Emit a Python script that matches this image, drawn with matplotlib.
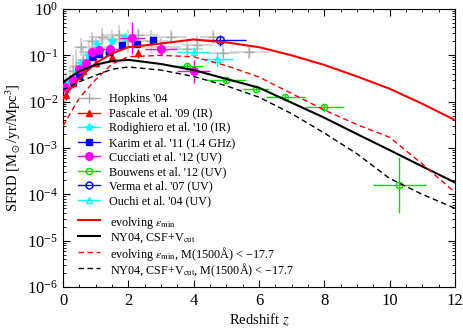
import numpy as np
import matplotlib
matplotlib.use("Agg")
import matplotlib.pyplot as plt
from matplotlib.lines import Line2D

plt.rcParams['font.family'] = ['Liberation Serif', 'DejaVu Serif']
plt.rcParams['mathtext.fontset'] = 'stix'

# model curves
z_model = [0, 0.25, 0.5, 1.0, 1.5, 2.0, 3.0, 4.0, 5.0, 6.0, 7.0, 8.0, 9.0, 10.0, 11.0, 12.0]
evolving = [0.012, 0.02, 0.032, 0.068, 0.11, 0.15, 0.18, 0.22, 0.19, 0.15, 0.1, 0.062, 0.035, 0.019, 0.009, 0.004]
ny04 = [0.026, 0.035, 0.045, 0.063, 0.075, 0.08, 0.065, 0.048, 0.031, 0.02, 0.0095, 0.0045, 0.002, 0.0009, 0.0004, 0.00018]
evolving_cut = [0.003, 0.006, 0.012, 0.03, 0.065, 0.093, 0.1, 0.093, 0.06, 0.034, 0.015, 0.0066, 0.0032, 0.0017, 0.00045, 0.00011]
ny04_cut = [0.018, 0.022, 0.027, 0.037, 0.05, 0.056, 0.048, 0.035, 0.022, 0.0125, 0.0055, 0.0021, 0.00075, 0.00022, 0.0001, 0.00005]

# observations
hop_z = [0.05, 0.1, 0.2, 0.3, 0.4, 0.55, 0.6, 0.8, 0.9, 1.0, 1.2, 1.5, 1.7, 2.0, 2.3, 2.7, 3.0, 3.3, 3.8, 4.1, 4.6, 4.9, 5.7]
hop_v = [0.016, 0.022, 0.03, 0.045, 0.06, 0.15, 0.08, 0.12, 0.2, 0.15, 0.25, 0.22, 0.28, 0.2, 0.27, 0.2, 0.15, 0.25, 0.14, 0.17, 0.25, 0.11, 0.12]
hop_xe = [0.05, 0.05, 0.1, 0.1, 0.15, 0.2, 0.2, 0.3, 0.3, 0.4, 0.4, 0.4, 0.5, 0.6, 0.6, 0.5, 0.6, 0.5, 0.5, 0.5, 0.4, 0.5, 0.6]
hop_ye = [0.3, 0.3, 0.3, 0.35, 0.35, 0.2, 0.3, 0.25, 0.2, 0.25, 0.2, 0.2, 0.2, 0.25, 0.15, 0.25, 0.2, 0.15, 0.2, 0.2, 0.15, 0.2, 0.15]

pas_z = [0.1, 0.3, 0.6, 1.0, 1.5, 2.3]
pas_v = [0.014, 0.025, 0.045, 0.07, 0.09, 0.11]

rod_z = [0.15, 0.4, 0.55, 0.75, 1.05, 1.5, 1.9]
rod_v = [0.025, 0.045, 0.07, 0.1, 0.18, 0.2, 0.25]

kar_z = [0.3, 0.5, 0.7, 0.9, 1.1, 1.4, 1.8, 2.25, 2.75]
kar_v = [0.028, 0.036, 0.06, 0.09, 0.105, 0.12, 0.17, 0.18, 0.21]

cuc_z = [0.05, 0.3, 0.5, 0.7, 0.9, 1.1, 1.45, 2.1, 3.0, 4.0]
cuc_v = [0.021, 0.03, 0.05, 0.07, 0.12, 0.13, 0.14, 0.24, 0.135, 0.045]
cuc_xe = [0.05, 0.1, 0.1, 0.1, 0.1, 0.1, 0.25, 0.4, 0.5, 0.5]
cuc_ye = [0.1, 0.08, 0.08, 0.08, 0.08, 0.08, 0.1, 0.35, 0.15, 0.25]

bou_z = [3.8, 5.0, 5.9, 6.8, 8.0, 10.3]
bou_v = [0.06, 0.029, 0.019, 0.0125, 0.0075, 0.00016]
bou_xe = [0.5, 0.6, 0.4, 0.6, 0.6, 0.8]
bou_ye = [0.05, 0.05, 0.05, 0.06, 0.08, 0.6]

ver_z = [4.8]
ver_v = [0.21]
ouc_z = [4.0, 4.7]
ouc_v = [0.12, 0.082]

fig = plt.figure(figsize=(4.64, 3.31), dpi=100)
ax = fig.add_axes([0.1358, 0.1329, 0.8448, 0.8399])


def yerr_log(v, e):
    v = np.array(v)
    e = np.array(e)
    return [v - v * 10**(-e), v * 10**e - v]


ax.errorbar(hop_z, hop_v, xerr=hop_xe, yerr=yerr_log(hop_v, hop_ye), fmt='+', color='#aaaaaa',
            ecolor='#d0d0d0', ms=7, mew=1, lw=1.2, zorder=1)
ax.errorbar(pas_z, pas_v, yerr=yerr_log(pas_v, [0.1]*6), fmt='^', color='red', ms=4, lw=1, zorder=3)
ax.errorbar(rod_z, rod_v, yerr=yerr_log(rod_v, [0.08]*7), fmt='*', color='cyan', ms=6, lw=1, zorder=3)
ax.errorbar(kar_z, kar_v, xerr=[0.1]*9, fmt='s', color='blue', ms=4.5, lw=1, zorder=4)
ax.errorbar(cuc_z, cuc_v, xerr=cuc_xe, yerr=yerr_log(cuc_v, cuc_ye), fmt='o', color='magenta',
            ms=5.5, lw=1, zorder=4)
ax.errorbar(bou_z, bou_v, xerr=bou_xe, yerr=yerr_log(bou_v, bou_ye), fmt='o', color='#00dd00',
            mfc='none', ms=4.5, lw=1, zorder=4)
ax.errorbar(ver_z, ver_v, xerr=[[0.5], [0.8]], yerr=yerr_log(ver_v, [0.12]), fmt='o', color='blue',
            mfc='none', ms=5.5, lw=1, zorder=4)
ax.errorbar(ouc_z, ouc_v, xerr=[0.5, 0.5], yerr=yerr_log(ouc_v, [0.1, 0.15]), fmt='^', color='cyan',
            mfc='none', ms=5, lw=1, zorder=4)

dash = (0, (4, 2.5))
ax.plot(z_model, evolving, color='red', lw=1.5, zorder=5)
ax.plot(z_model, ny04, color='black', lw=1.5, zorder=5)
ax.plot(z_model, evolving_cut, color='red', lw=1, ls=dash, zorder=5)
ax.plot(z_model, ny04_cut, color='black', lw=1, ls=dash, zorder=5)

ax.set_yscale('log')
ax.set_xlim(0, 12)
ax.set_ylim(1e-6, 1)
ax.set_xticks(range(0, 13, 2))
ax.set_xticks(np.arange(0, 12.1, 0.5), minor=True)
ax.tick_params(which='both', direction='in', top=True, right=True, labelsize=12)
ax.tick_params(which='major', length=5)
ax.tick_params(which='minor', length=2.5)
ax.tick_params(axis='x', pad=4)
ax.set_xlabel('Redshift $z$', fontsize=10.5, labelpad=2)
ax.set_ylabel(r'SFRD [M$_\odot$/yr/Mpc$^3$]', fontsize=10.5, labelpad=3)

h1 = [Line2D([], [], color='#aaaaaa', marker='+', ms=7, lw=1),
      Line2D([], [], color='red', marker='^', ms=4, lw=1),
      Line2D([], [], color='cyan', marker='*', ms=6, lw=1),
      Line2D([], [], color='blue', marker='s', ms=4.5, lw=1),
      Line2D([], [], color='magenta', marker='o', ms=5.5, lw=1),
      Line2D([], [], color='#00dd00', marker='o', mfc='none', ms=4.5, lw=1),
      Line2D([], [], color='blue', marker='o', mfc='none', ms=5, lw=1),
      Line2D([], [], color='cyan', marker='^', mfc='none', ms=5, lw=1)]
l1 = ["Hopkins '04", "Pascale et al. '09 (IR)", "Rodighiero et al. '10 (IR)",
      "Karim et al. '11 (1.4 GHz)", "Cucciati et al. '12 (UV)", "Bouwens et al. '12 (UV)",
      "Verma et al. '07 (UV)", "Ouchi et al. '04 (UV)"]
leg1 = ax.legend(h1, l1, loc='upper left', bbox_to_anchor=(0.038, 0.697), frameon=False,
                 fontsize=8.7, handlelength=1.8, handletextpad=0.8, labelspacing=0.21,
                 borderpad=0, borderaxespad=0)

# second legend group, drawn entry by entry so rows stay evenly spaced
l2 = [r"evolving $\varepsilon_{\rm min}$", r"NY04, CSF+V$_{\rm cut}$",
      "evolving $\\varepsilon_{\\rm min}$, M(1500Å) < \u221217.7",
      "NY04, CSF+V$_{\\rm cut}$, M(1500Å) < \u221217.7"]
s2 = [('red', 1.5, '-'), ('black', 1.5, '-'), ('red', 1, dash), ('black', 1, dash)]
row_y = [0.241, 0.183, 0.126, 0.068]
for lab, (c, w, s), yy in zip(l2, s2, row_y):
    ax.add_line(Line2D([0.038, 0.094], [yy, yy], color=c, lw=w, ls=s, transform=ax.transAxes))
    ax.text(0.12, yy, lab, transform=ax.transAxes, fontsize=8.7, va='center_baseline')

fig.savefig('out.png', dpi=100)
